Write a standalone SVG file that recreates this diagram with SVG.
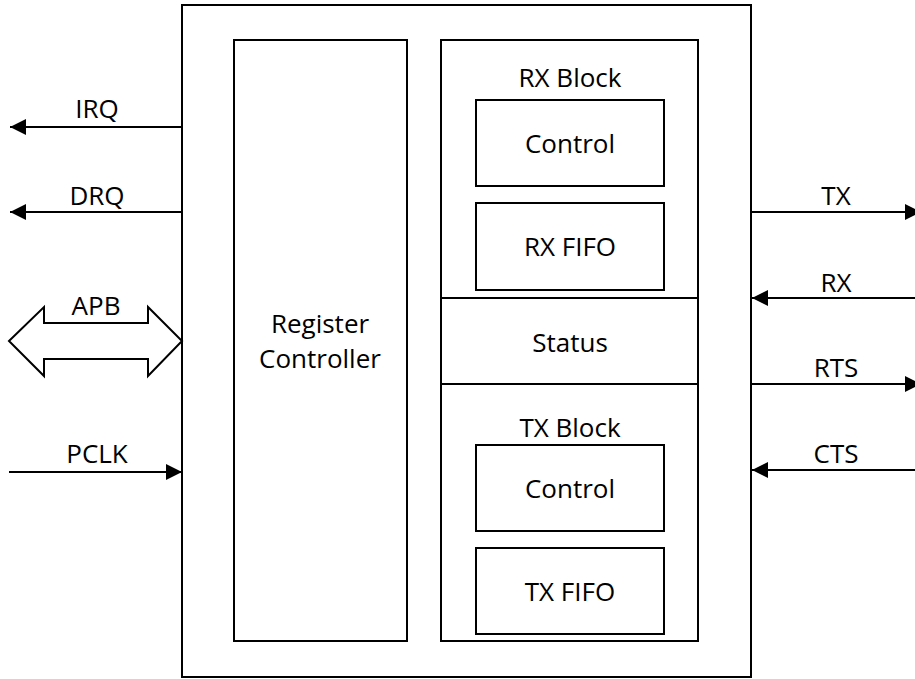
<svg xmlns="http://www.w3.org/2000/svg" width="915" height="679" viewBox="0 0 915 679">
<style>
.box{fill:#fff;stroke:#000;stroke-width:2}
.ln{fill:none;stroke:#000;stroke-width:2}
text{font-family:"Open Sans","Liberation Sans",sans-serif;font-size:26px;fill:#000;text-anchor:middle}
</style>
<defs>
<marker id="ah" viewBox="0 0 16 16" refX="16" refY="8" markerWidth="16" markerHeight="16" markerUnits="userSpaceOnUse" orient="auto">
<path d="M0,0 L16,8 L0,16 Z" fill="#000"/>
</marker>
</defs>
<rect width="915" height="679" fill="#fff"/>
<g id="outer"><rect class="box" x="182" y="5" width="569" height="672"/></g>
<g id="register"><rect class="box" x="234" y="40" width="173" height="601"/>
<text x="320" y="333">Register</text><text x="320" y="368">Controller</text></g>
<g id="rxblock"><rect class="box" x="441" y="40" width="257" height="258"/>
<text x="570" y="87">RX Block</text></g>
<g id="rxcontrol"><rect class="box" x="476" y="100" width="188" height="86"/><text x="570" y="153">Control</text></g>
<g id="rxfifo"><rect class="box" x="476" y="203" width="188" height="87"/><text x="570" y="256">RX FIFO</text></g>
<g id="status"><rect class="box" x="441" y="298" width="257" height="86"/><text x="570" y="352">Status</text></g>
<g id="txblock"><rect class="box" x="441" y="384" width="257" height="257"/><text x="570" y="437">TX Block</text></g>
<g id="txcontrol"><rect class="box" x="476" y="445" width="188" height="86"/><text x="570" y="498">Control</text></g>
<g id="txfifo"><rect class="box" x="476" y="548" width="188" height="86"/><text x="570" y="601">TX FIFO</text></g>
<g id="connectors">
<line class="ln" x1="182" y1="127" x2="10" y2="127" marker-end="url(#ah)"/>
<text x="97" y="118">IRQ</text>
<line class="ln" x1="182" y1="212" x2="10" y2="212" marker-end="url(#ah)"/>
<text x="97" y="205">DRQ</text>
<path class="ln" d="M9,341 L44,307 L44,323 L148,323 L148,307 L182,341 L148,376 L148,359 L44,359 L44,376 Z"/>
<text x="96" y="315">APB</text>
<line class="ln" x1="9" y1="472" x2="182" y2="472" marker-end="url(#ah)"/>
<text x="97" y="463">PCLK</text>
<line class="ln" x1="751" y1="212" x2="921" y2="212" marker-end="url(#ah)"/>
<text x="836" y="205">TX</text>
<line class="ln" x1="915" y1="298" x2="752" y2="298" marker-end="url(#ah)"/>
<text x="836" y="292">RX</text>
<line class="ln" x1="751" y1="384" x2="921" y2="384" marker-end="url(#ah)"/>
<text x="836" y="377">RTS</text>
<line class="ln" x1="915" y1="470" x2="752" y2="470" marker-end="url(#ah)"/>
<text x="836" y="463">CTS</text>
</g>
</svg>
